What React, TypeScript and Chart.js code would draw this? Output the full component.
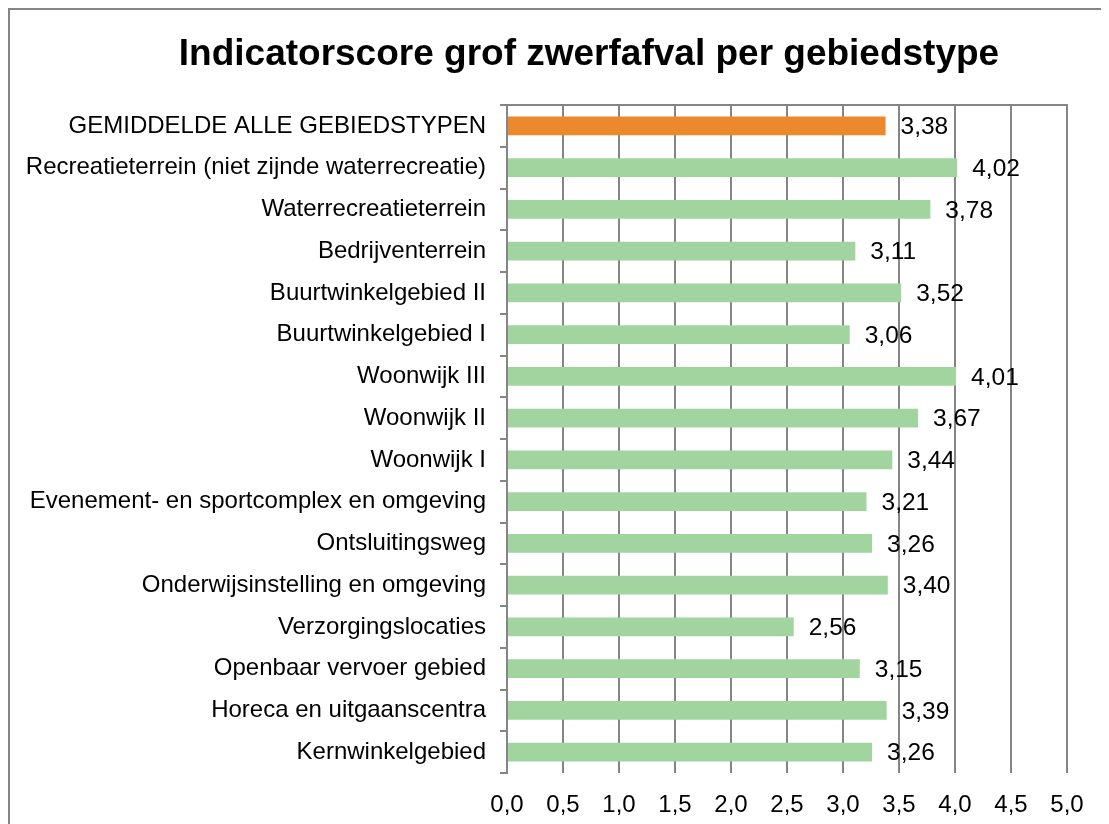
import React, { useEffect, useRef } from "react";
import { Chart, registerables } from "chart.js";

Chart.register(...registerables);

const categories: string[] = [
  "GEMIDDELDE ALLE GEBIEDSTYPEN",
  "Recreatieterrein (niet zijnde waterrecreatie)",
  "Waterrecreatieterrein",
  "Bedrijventerrein",
  "Buurtwinkelgebied II",
  "Buurtwinkelgebied I",
  "Woonwijk III",
  "Woonwijk II",
  "Woonwijk I",
  "Evenement- en sportcomplex en omgeving",
  "Ontsluitingsweg",
  "Onderwijsinstelling en omgeving",
  "Verzorgingslocaties",
  "Openbaar vervoer gebied",
  "Horeca en uitgaanscentra",
  "Kernwinkelgebied",
];

const scores: number[] = [
  3.38, 4.02, 3.78, 3.11, 3.52, 3.06, 4.01, 3.67, 3.44, 3.21, 3.26, 3.4, 2.56,
  3.15, 3.39, 3.26,
];

const titleText = "Indicatorscore grof zwerfafval per gebiedstype";
const xMin = 0;
const xMax = 5;
const xStep = 0.5;

const ORANGE = "#ED892D";
const GREEN = "#A1D49E";
const GRID = "#858585";
const FONT = "'Liberation Sans', Arial, Helvetica, sans-serif";

const fmt = (v: number, d: number) => v.toFixed(d).replace(".", ",");

export default function App() {
  const ref = useRef<HTMLCanvasElement | null>(null);

  useEffect(() => {
    document.documentElement.style.overflow = "hidden";
    const canvas = ref.current;
    if (!canvas) return;

    const valueLabels = {
      id: "valueLabels",
      afterDatasetsDraw(chart: any) {
        const ctx = chart.ctx;
        const meta = chart.getDatasetMeta(0);
        ctx.save();
        ctx.font = `24.5px ${FONT}`;
        ctx.fillStyle = "#000";
        ctx.textAlign = "left";
        ctx.textBaseline = "middle";
        meta.data.forEach((bar: any, i: number) => {
          ctx.fillText(fmt(scores[i], 2), bar.x + 15, bar.y + 1.5);
        });
        ctx.restore();
      },
    };

    const decorations = {
      id: "decorations",
      afterDraw(chart: any) {
        const { ctx, chartArea } = chart;
        ctx.save();
        ctx.strokeStyle = GRID;
        ctx.lineWidth = 2;
        ctx.beginPath();
        ctx.moveTo(chartArea.left - 7, chartArea.top);
        ctx.lineTo(chartArea.right + 1, chartArea.top);
        ctx.stroke();
        ctx.fillStyle = "#000";
        ctx.font = `bold 37px ${FONT}`;
        ctx.textAlign = "center";
        ctx.textBaseline = "middle";
        ctx.fillText(titleText, 579, 45);
        ctx.restore();
      },
    };

    const chart = new Chart(canvas, {
      type: "bar",
      data: {
        labels: categories,
        datasets: [
          {
            data: scores,
            backgroundColor: scores.map((_, i) => (i === 0 ? ORANGE : GREEN)),
            borderWidth: 0,
            categoryPercentage: 1,
            barPercentage: 0.45,
          },
        ],
      },
      options: {
        indexAxis: "y",
        responsive: false,
        animation: false,
        devicePixelRatio: 1,
        layout: { padding: { left: 0, right: 42, top: 95, bottom: 0 } },
        plugins: {
          legend: { display: false },
          tooltip: { enabled: false },
          title: { display: false },
        },
        scales: {
          x: {
            min: xMin,
            max: xMax,
            ticks: {
              stepSize: xStep,
              color: "#000",
              font: { family: FONT, size: 24 },
              padding: 18,
              callback: (v: any) => fmt(Number(v), 1),
            },
            grid: {
              display: true,
              drawTicks: false,
              color: GRID,
              lineWidth: 2,
            },
            border: { display: false },
            afterFit: (scale: any) => {
              scale.height = 51;
            },
          },
          y: {
            ticks: {
              color: "#000",
              font: { family: FONT, size: 24 },
              padding: 14,
            },
            grid: {
              display: true,
              offset: true,
              drawOnChartArea: false,
              drawTicks: true,
              tickLength: 7,
              color: GRID,
              lineWidth: 2,
            },
            border: { display: true, color: GRID, width: 2 },
            afterFit: (scale: any) => {
              scale.width = 497;
            },
          },
        },
      },
      plugins: [valueLabels, decorations],
    });

    return () => chart.destroy();
  }, []);

  return (
    <div
      style={{
        width: 1101,
        height: 816,
        borderLeft: `2px solid ${GRID}`,
        borderTop: `2px solid ${GRID}`,
        boxSizing: "border-box",
        overflow: "hidden",
      }}
    >
      <canvas ref={ref} width={1099} height={814} style={{ display: "block" }} />
    </div>
  );
}
